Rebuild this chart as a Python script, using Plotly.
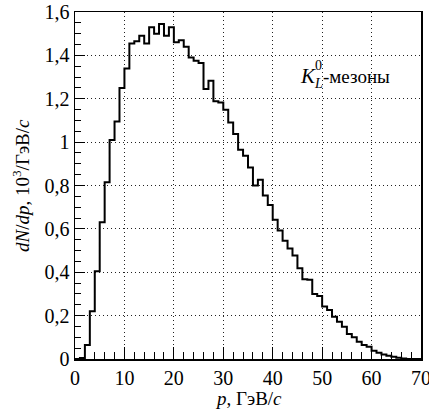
import plotly.graph_objects as go

# Histogram: bins of 1 GeV/c from 0 to 70
bin_edges = list(range(0, 71))
counts = [
    0.0, 0.005, 0.065, 0.22, 0.405, 0.63, 0.815, 1.01, 1.095, 1.25,
    1.34, 1.455, 1.465, 1.49, 1.455, 1.53, 1.50, 1.545, 1.49, 1.53,
    1.46, 1.47, 1.44, 1.39, 1.375, 1.365, 1.245, 1.283, 1.188, 1.183,
    1.149, 1.09, 1.037, 0.965, 0.937, 0.883, 0.80, 0.826, 0.754, 0.71,
    0.642, 0.592, 0.545, 0.51, 0.477, 0.418, 0.368, 0.365, 0.30, 0.29,
    0.242, 0.226, 0.195, 0.172, 0.149, 0.115, 0.10, 0.08, 0.065, 0.057,
    0.038, 0.029, 0.021, 0.015, 0.01, 0.006, 0.002, 0.0, 0.0, 0.0,
]
x_ticks = [0, 10, 20, 30, 40, 50, 60, 70]
y_ticks = [0, 0.2, 0.4, 0.6, 0.8, 1.0, 1.2, 1.4, 1.6]
y_tick_labels = ["0", "0,2", "0,4", "0,6", "0,8", "1", "1,2", "1,4", "1,6"]

W, H = 429, 412
L, R, T, B = 75, 8, 12, 53
pw, ph = W - L - R, H - T - B

def px(x):  # page pixel -> paper
    return (x - L) / pw

def py(y):
    return (H - B - y) / ph

FONT = "Liberation Serif, Times New Roman, serif"

fig = go.Figure()
fig.add_trace(go.Scatter(
    x=bin_edges,
    y=counts + [counts[-1]],
    mode="lines",
    line=dict(shape="hv", color="black", width=2),
    hoverinfo="skip",
    showlegend=False,
))

axis_common = dict(
    showline=True, linecolor="black", linewidth=1.5, mirror=True,
    ticks="inside", tickcolor="black", tickwidth=1,
    showgrid=True, gridcolor="#222", gridwidth=1, griddash="1px,3px",
    zeroline=False, automargin=False, ticklabeloverflow="allow",
    tickfont=dict(family=FONT, size=20, color="black"),
)

fig.update_xaxes(
    range=[0, 70], tickvals=x_ticks, ticklen=12,
    minor=dict(dtick=2, ticklen=7, tickcolor="black", tickwidth=1, ticks="inside", showgrid=False),
    **axis_common,
)
fig.update_yaxes(
    range=[0, 1.6], tickvals=y_ticks, ticktext=y_tick_labels, ticklen=10,
    minor=dict(dtick=0.05, ticklen=6, tickcolor="black", tickwidth=1, ticks="inside", showgrid=False),
    **axis_common,
)

annotations = [
    dict(text="<i>p</i>, ГэВ/<i>c</i>", x=px(248), y=py(398), xanchor="center", yanchor="middle",
         font=dict(family=FONT, size=19, color="black")),
    dict(text="<i>dN</i>/<i>dp</i>, 10<sup>3</sup>/ГэВ/<i>c</i>", x=px(21), y=py(186),
         xanchor="center", yanchor="middle", textangle=-90,
         font=dict(family=FONT, size=19, color="black")),
    dict(text="<i>K</i>", x=px(298), y=py(76), xanchor="left", yanchor="middle",
         font=dict(family=FONT, size=21, color="black")),
    dict(text="0", x=px(313), y=py(66), xanchor="left", yanchor="middle",
         font=dict(family=FONT, size=14, color="black")),
    dict(text="<i>L</i>", x=px(312), y=py(84), xanchor="left", yanchor="middle",
         font=dict(family=FONT, size=14, color="black")),
    dict(text="-мезоны", x=px(321), y=py(76), xanchor="left", yanchor="middle",
         font=dict(family=FONT, size=19, color="black")),
]
for a in annotations:
    a.update(xref="paper", yref="paper", showarrow=False)

fig.update_layout(
    width=W, height=H,
    margin=dict(l=L, r=R, t=T, b=B, autoexpand=False),
    paper_bgcolor="white", plot_bgcolor="white",
    annotations=annotations,
    showlegend=False,
)

fig.write_html(
    "out.html",
    config={"displayModeBar": False, "staticPlot": True},
    post_script="document.body.style.margin='0';document.body.style.padding='0';",
)
